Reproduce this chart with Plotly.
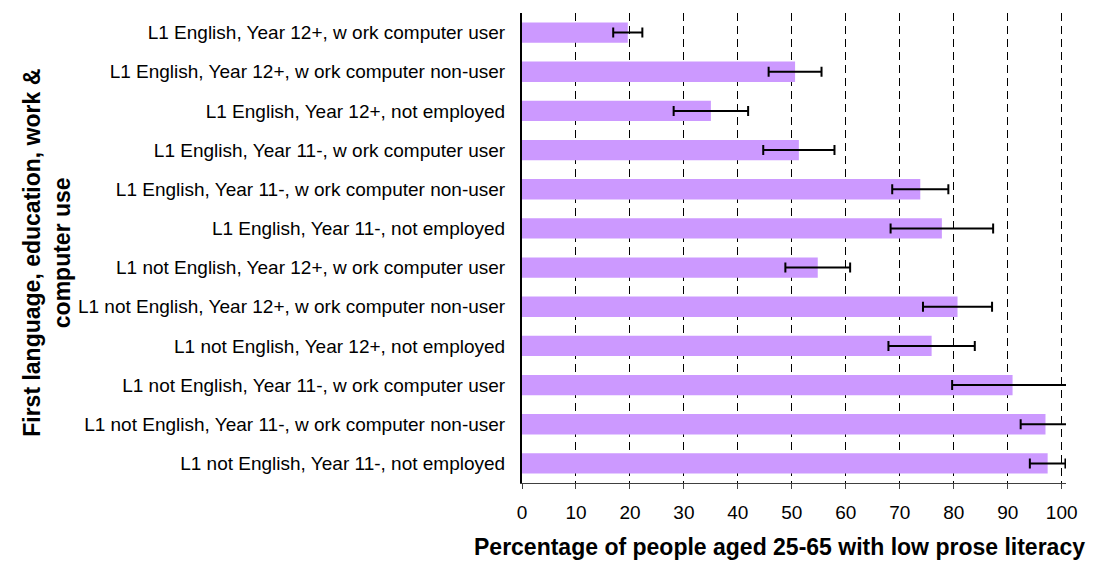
import plotly.graph_objects as go

categories = [
    "L1 English, Year 12+, w ork computer user",
    "L1 English, Year 12+, w ork computer non-user",
    "L1 English, Year 12+, not employed",
    "L1 English, Year 11-, w ork computer user",
    "L1 English, Year 11-, w ork computer non-user",
    "L1 English, Year 11-, not employed",
    "L1 not English, Year 12+, w ork computer user",
    "L1 not English, Year 12+, w ork computer non-user",
    "L1 not English, Year 12+, not employed",
    "L1 not English, Year 11-, w ork computer user",
    "L1 not English, Year 11-, w ork computer non-user",
    "L1 not English, Year 11-, not employed",
]
values = [19.6, 50.6, 35.0, 51.3, 73.8, 77.8, 54.8, 80.7, 75.9, 90.9, 97.0, 97.4]
errors = [2.7, 4.9, 6.9, 6.6, 5.2, 9.5, 6.0, 6.4, 8.0, 11.2, 4.6, 3.3]
x_ticks = [0, 10, 20, 30, 40, 50, 60, 70, 80, 90, 100]

FONT = "Liberation Sans, Arial, sans-serif"

fig = go.Figure(
    go.Bar(
        y=categories,
        x=values,
        orientation="h",
        marker=dict(color="#CC99FF", line=dict(width=0)),
        width=0.52,
        error_x=dict(type="data", array=errors, visible=True,
                     color="black", thickness=2, width=5),
    )
)

fig.update_layout(
    width=1097, height=561,
    margin=dict(l=522, r=31, t=13, b=78),
    paper_bgcolor="white", plot_bgcolor="white",
    font=dict(family=FONT, size=19, color="black"),
    showlegend=False,
    xaxis=dict(
        range=[0, 100.8],
        tickvals=x_ticks,
        showgrid=True, gridcolor="black", gridwidth=1, griddash="8px,5px",
        zeroline=False,
        showline=True, linecolor="#404040", linewidth=1,
        ticks="outside", ticklen=5, tickcolor="#404040",
        ticklabelstandoff=7,
        tickfont=dict(size=19),
    ),
    yaxis=dict(
        autorange="reversed",
        showgrid=False, zeroline=False,
        showline=True, linecolor="black", linewidth=2,
        ticks="", ticklabelstandoff=11,
        tickfont=dict(size=19),
    ),
    annotations=[
        dict(text="<b>Percentage of people aged 25-65 with low prose literacy</b>",
             xref="paper", yref="paper", x=0.474, y=-0.136,
             xanchor="center", yanchor="middle", showarrow=False,
             font=dict(size=23, family=FONT)),
        dict(text="<b>First language, education, work &<br>computer use</b>",
             xref="paper", yref="paper", x=-0.873, y=0.49,
             xanchor="center", yanchor="middle", showarrow=False,
             textangle=-90, font=dict(size=23, family=FONT)),
    ],
)

fig.write_html(
    "out.html",
    config={"displayModeBar": False},
    post_script="document.body.style.margin='0';document.body.style.overflow='hidden';",
)
